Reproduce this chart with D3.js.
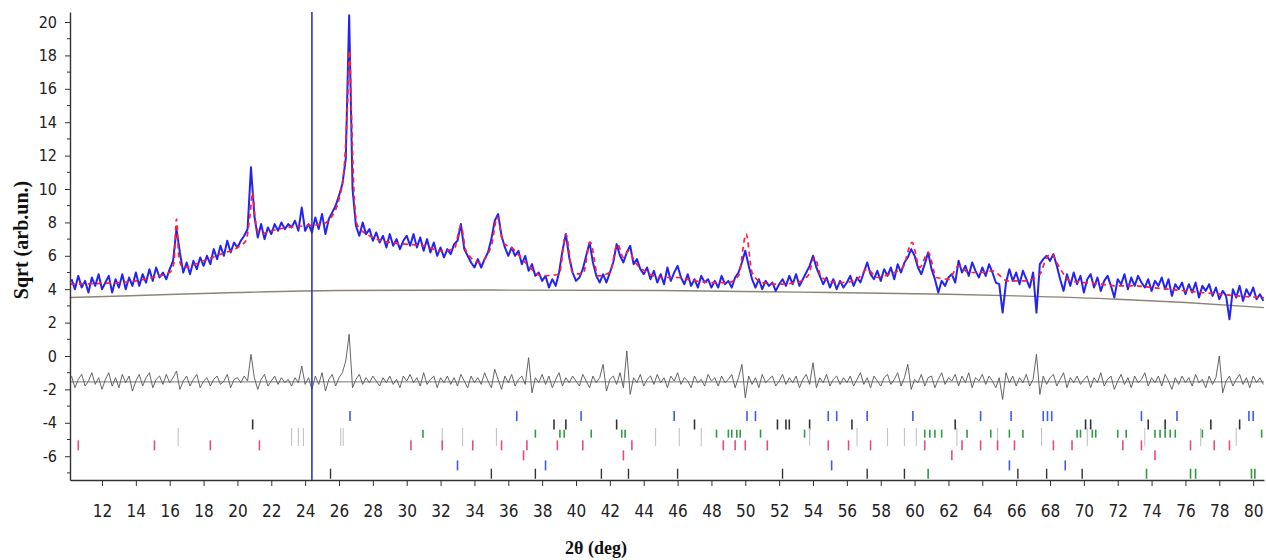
<!DOCTYPE html>
<html>
<head>
<meta charset="utf-8">
<script src="https://cdn.jsdelivr.net/npm/d3@7"></script>
<style>
  body { margin: 0; background: #fff; }
  .tick text {
    font-family: "Liberation Sans Narrow", "DejaVu Sans Condensed", "DejaVu Sans", sans-serif;
    font-stretch: condensed;
    fill: #222;
  }
  .axis-title {
    font-family: "Liberation Serif", "DejaVu Serif", serif;
    font-weight: bold;
    fill: #111;
  }
</style>
</head>
<body>
<svg id="chart"></svg>
<script>
// observed profile, one value every 0.2 deg starting at 10.2
const obsStart = 10.2;
const obsStep = 0.2;
const observed = [
  4.6, 4.0, 4.8, 4.1, 4.5, 3.8, 4.7, 4.2, 4.9, 4.0,
  4.4, 4.8, 3.8, 4.6, 4.1, 4.9, 4.0, 4.7, 4.2, 5.0,
  4.2, 4.9, 4.4, 5.2, 4.5, 5.3, 4.7, 5.0, 4.6, 5.2,
  5.7, 7.6, 6.2, 5.0, 5.6, 4.9, 5.7, 5.2, 5.9, 5.4,
  6.0, 5.5, 6.4, 5.8, 6.6, 6.0, 6.9, 6.2, 6.8, 6.5,
  6.9, 7.2, 7.6, 11.3, 8.4, 7.1, 7.9, 7.0, 7.7, 7.3,
  7.9, 7.5, 8.0, 7.6, 7.9, 7.7, 8.1, 7.5, 8.9, 7.5,
  7.9, 7.4, 8.3, 7.6, 8.5, 7.3, 8.2, 8.6, 9.0, 9.6,
  10.3, 11.8, 20.4, 10.0, 7.8, 7.2, 8.0, 7.3, 7.6, 6.9,
  7.4, 6.8, 7.2, 6.5, 7.3, 6.6, 7.0, 6.4, 6.9, 7.2,
  6.6, 7.3, 6.5, 7.1, 6.3, 7.0, 6.2, 6.8, 6.0, 6.5,
  5.9, 6.4, 6.1, 6.7, 6.9, 7.9, 6.4, 6.0, 5.6, 5.3,
  5.8, 5.3, 5.8, 6.2, 7.0, 8.1, 8.5, 7.2, 6.5, 6.0,
  6.5, 6.0, 6.3, 5.5, 6.0, 5.1, 5.5, 4.8, 5.0, 4.5,
  4.8, 4.1, 4.6, 4.2, 5.0, 6.3, 7.3, 5.9, 5.0, 4.5,
  4.7, 5.2, 6.0, 6.8, 5.6, 4.8, 4.4, 4.9, 4.4, 5.0,
  5.6, 6.7, 6.0, 5.6, 6.2, 6.6, 5.5, 5.8, 5.2, 4.9,
  5.3, 4.6, 5.1, 4.4, 4.9, 4.3, 5.3, 4.5, 5.0, 5.4,
  4.7, 4.3, 4.9, 4.2, 4.6, 4.1, 4.8, 4.4, 4.6, 4.1,
  4.5, 4.1, 4.8, 4.3, 4.5, 4.1, 4.7, 5.0, 5.6, 6.3,
  5.4, 4.6, 4.1, 4.6, 4.0, 4.5, 4.2, 4.4, 3.9, 4.3,
  4.6, 4.2, 4.8, 4.3, 4.9, 4.2, 4.6, 5.0, 5.4, 6.0,
  5.3, 4.8, 4.3, 4.7, 4.1, 4.6, 4.0, 4.5, 4.1, 4.4,
  4.8, 4.2, 4.7, 4.4, 5.0, 5.6, 4.9, 4.6, 5.1, 4.5,
  5.2, 4.8, 5.3, 4.6, 5.5, 5.0, 5.6, 5.9, 6.4, 6.0,
  5.3, 4.9, 5.5, 6.2, 5.2, 4.6, 3.8, 4.5, 4.2, 4.7,
  4.9, 4.4, 5.7, 5.0, 5.4, 4.8, 5.6, 5.1, 4.7, 5.3,
  4.8, 5.5, 5.0, 4.4, 4.3, 2.6, 4.4, 5.2, 4.5, 5.0,
  4.3, 5.1, 4.6, 4.1, 5.0, 2.6, 5.5, 5.8, 6.0, 5.7,
  6.1, 5.4, 4.6, 3.9, 4.9, 4.2, 5.0, 4.3, 4.8, 3.8,
  4.6, 4.9, 4.1, 4.7, 3.9, 4.5, 4.8, 4.2, 3.5, 4.6,
  4.3, 4.9, 4.0, 4.7, 4.2, 4.8, 4.4, 4.1, 4.6, 3.9,
  4.5, 4.2, 4.7, 4.0, 4.6, 3.6, 4.3, 4.0, 4.4, 3.7,
  4.3, 3.8, 4.4, 3.5, 4.2, 3.9, 4.3, 3.6, 4.1, 3.4,
  3.9, 3.6, 2.2, 4.0, 3.5, 4.2, 3.3, 4.0, 3.6, 4.1,
  3.4, 3.7, 3.3
];

// calculated profile as [2theta, value] points
const calculated = [
  [10.1, 4.3], [12, 4.35], [14, 4.5], [15, 4.7], [16.0, 5.0], [16.25, 5.6], [16.4, 8.2],
  [16.55, 5.8], [16.8, 5.3], [18, 5.7], [19, 6.1], [20, 6.5], [20.5, 6.9], [20.75, 8.5],
  [20.9, 9.8], [21.05, 8.2], [21.3, 7.3], [22, 7.5], [23, 7.7], [24, 7.8], [25, 7.9],
  [25.6, 8.4], [26.0, 9.4], [26.3, 11.2], [26.5, 15.0], [26.62, 18.3], [26.75, 14.0],
  [26.9, 9.5], [27.1, 7.8], [28, 7.1], [29, 6.8], [30, 6.7], [31, 6.6], [32, 6.3],
  [32.8, 6.4], [33.2, 7.8], [33.5, 6.3], [34.3, 5.6], [35.0, 6.6], [35.35, 8.3], [35.7, 6.8],
  [36.3, 6.4], [37, 5.6], [38, 4.8], [39.0, 4.9], [39.4, 7.3], [39.8, 5.0], [40.4, 4.9],
  [40.85, 6.8], [41.3, 4.8], [42.0, 5.0], [42.45, 6.7], [42.8, 5.9], [43.1, 6.3], [43.5, 5.6],
  [44.2, 5.0], [45, 4.7], [46, 4.7], [47, 4.5], [48, 4.4], [49, 4.4], [49.6, 4.8],
  [50.05, 7.3], [50.4, 5.0], [51, 4.4], [52, 4.3], [53, 4.4], [53.7, 4.8], [54.1, 5.9],
  [54.5, 4.7], [55.5, 4.4], [56.5, 4.5], [57.2, 5.2], [57.8, 4.7], [58.5, 4.9], [59.3, 5.3],
  [59.85, 6.8], [60.3, 5.3], [60.8, 6.2], [61.3, 4.7], [62, 4.6], [62.6, 5.4], [63.2, 5.0],
  [64, 5.0], [64.6, 5.1], [65.5, 4.5], [66.5, 4.5], [67.4, 4.9], [67.8, 5.9], [68.1, 6.1],
  [68.5, 5.4], [69.2, 4.5], [70, 4.4], [71, 4.3], [72, 4.2], [73, 4.2], [74, 4.1],
  [75, 4.0], [76, 3.9], [77, 3.8], [78, 3.7], [79, 3.6], [80.64, 3.5]
];

const background = [
  [10.1, 3.5], [15, 3.65], [20, 3.8], [26, 3.92], [35, 3.95], [45, 3.92],
  [55, 3.8], [62, 3.7], [66, 3.6], [72, 3.4], [76, 3.2], [80.64, 2.9]
];

// difference curve (obs - calc, shifted), same grid as observed
const diffStart = 10.2;
const diffStep = 0.2;
const diffBaseline = -1.55;
const difference = [
  -1.2, -1.9, -1.4, -1.1, -1.8, -1.5, -1.0, -1.7, -1.3, -2.0,
  -1.4, -1.0, -1.8, -1.3, -1.9, -1.1, -1.6, -1.2, -2.1, -1.5,
  -1.1, -1.8, -1.3, -1.0, -1.9, -1.4, -1.2, -1.7, -1.1, -1.6,
  -1.3, -0.9, -2.0, -1.5, -1.2, -1.8, -1.4, -1.1, -1.9, -1.5,
  -1.3, -1.8, -1.4, -1.2, -1.7, -1.5, -1.1, -1.9, -1.4, -1.3,
  -1.6, -1.2, -1.5, 0.1, -1.3, -2.0, -1.4, -1.1, -1.8, -1.5,
  -1.2, -1.7, -1.3, -1.6, -1.4, -1.8, -1.3, -1.6, -0.6, -1.7,
  -1.3, -2.0, -1.2, -1.7, -1.0, -2.1, -1.4, -1.1, -1.8, -1.3,
  -1.0, -0.3, 1.3, -1.9, -1.4, -1.1, -1.7, -1.3, -1.6, -1.2,
  -1.5, -1.8, -1.3, -1.6, -1.2, -1.7, -1.4, -1.9, -1.2, -1.5,
  -1.1, -1.6, -1.3, -1.8, -1.0, -1.7, -1.4, -1.2, -1.9, -1.3,
  -1.6, -1.2, -1.7, -1.3, -1.8, -1.1, -1.5, -1.9, -1.2, -1.6,
  -1.3, -1.7, -1.0, -1.5, -1.9, -0.8, -1.4, -2.0, -1.2, -1.6,
  -1.1, -1.8, -1.4, -1.2, -1.7, -0.1, -2.2, -1.3, -1.6, -1.1,
  -1.7, -1.2, -1.9, -1.4, -1.0, -1.8, -1.3, -1.6, -1.2, -1.5,
  -1.8, -1.1, -1.5, -1.9, -1.2, -1.6, -1.3, -0.5, -2.1, -1.4,
  -1.2, -1.7, -1.0, -1.9, 0.3, -2.3, -1.3, -1.6, -1.1, -1.8,
  -1.4, -1.2, -1.7, -1.1, -1.6, -1.3, -1.9, -1.2, -1.5, -1.0,
  -1.7, -1.3, -1.5, -1.9, -1.2, -1.6, -1.4, -1.8, -1.1, -1.5,
  -1.3, -1.8, -1.2, -1.6, -1.4, -1.1, -1.9, -1.3, -0.5, -2.5,
  -1.2, -1.7, -1.3, -1.9, -1.1, -1.6, -1.4, -1.2, -1.8, -1.5,
  -1.1, -1.7, -1.3, -1.6, -1.2, -1.9, -1.4, -1.1, -1.7, -0.4,
  -1.9, -1.3, -1.6, -1.1, -1.8, -1.4, -1.2, -1.7, -1.3, -1.6,
  -1.2, -1.8, -1.4, -1.0, -1.7, -1.3, -1.9, -1.2, -1.5, -1.8,
  -1.3, -1.1, -1.7, -1.4, -1.0, -1.8, -1.3, -0.5, -2.0, -1.4,
  -1.6, -1.1, -1.8, -1.3, -1.2, -1.9, -1.4, -1.0, -1.7, -1.3,
  -1.5, -1.1, -1.8, -1.2, -1.6, -1.0, -1.9, -1.3, -1.5, -1.1,
  -1.7, -1.2, -1.5, -1.9, -1.3, -2.6, -1.0, -1.6, -1.2, -1.8,
  -1.3, -1.6, -1.1, -1.8, -1.4, 0.1, -2.3, -1.2, -1.7, -1.3,
  -1.1, -1.8, -1.4, -1.0, -1.9, -1.3, -1.6, -1.2, -1.7, -1.4,
  -1.2, -1.9, -1.3, -1.6, -1.0, -1.8, -1.4, -1.2, -2.0, -1.5,
  -1.1, -1.7, -1.3, -1.9, -1.2, -1.6, -1.4, -1.0, -1.8, -1.3,
  -1.6, -1.2, -1.8, -1.1, -1.5, -2.0, -1.3, -1.7, -1.2, -1.6,
  -1.3, -1.8, -1.1, -1.6, -1.4, -1.9, -1.2, -1.7, -1.3, 0.0,
  -2.2, -1.5, -1.2, -1.8, -1.4, -1.1, -1.7, -1.3, -1.9, -1.2,
  -1.6, -1.3, -1.7
];

// vertical marker at 24.4 deg
const markerLine = 24.4;

// Bragg reflection positions, one array per row of ticks
const braggRow1 = [26.65, 36.5, 40.3, 45.8, 50.1, 50.6, 54.9, 55.4, 57.2, 59.9, 63.9, 65.7, 67.6, 67.85, 68.1, 73.4, 75.5, 79.75, 80.0];
const braggRow2 = [20.9, 38.7, 39.4, 42.4, 47.0, 51.9, 52.4, 52.6, 53.8, 56.3, 62.4, 70.1, 70.4, 73.8, 74.8, 77.5, 79.2];
const braggRow3 = [30.96, 37.6, 39.05, 39.3, 40.9, 42.7, 42.9, 48.3, 49.0, 49.2, 49.5, 49.7, 50.9, 53.5, 60.6, 60.9, 61.2, 61.6, 63.1, 64.5, 65.6, 66.4, 69.6, 69.8, 70.5, 70.7, 72.0, 72.5, 74.2, 74.5, 74.8, 75.1, 75.4, 77.0, 80.5];
const braggRow4 = [16.5, 23.2, 23.6, 23.9, 26.1, 26.25, 32.1, 33.3, 35.3, 44.7, 46.1, 47.4, 53.8, 56.6, 58.4, 59.4, 60.1, 62.5, 64.9, 67.5, 70.2, 73.6, 76.9, 79.0];
const braggRow5 = [10.6, 15.1, 18.4, 21.3, 30.25, 32.1, 33.9, 35.6, 37.1, 38.9, 40.4, 43.3, 48.7, 49.4, 50.0, 51.3, 54.9, 56.1, 57.4, 60.6, 62.8, 63.9, 64.9, 65.9, 68.2, 69.3, 72.3, 73.4, 76.3, 77.7, 78.6];
const braggRow6 = [36.9, 42.8, 62.2, 74.2];
const braggRow7 = [33.0, 38.2, 55.1, 65.6, 68.9];
const braggRow8 = [25.5, 35.0, 37.6, 41.5, 43.1, 46.0, 52.2, 57.2, 59.4, 66.1, 67.8, 69.9];
const braggRow9 = [60.8, 73.7, 76.3, 76.6, 79.9, 80.1];
// level (in plot units) of each tick row
const braggLevels = [-3.6, -4.1, -4.65, -4.85, -5.35, -5.95, -6.55, -7.05, -7.05];

const xTickValues = [12, 14, 16, 18, 20, 22, 24, 26, 28, 30, 32, 34, 36, 38, 40, 42, 44, 46,
  48, 50, 52, 54, 56, 58, 60, 62, 64, 66, 68, 70, 72, 74, 76, 78, 80];
const yTickValues = [-6, -4, -2, 0, 2, 4, 6, 8, 10, 12, 14, 16, 18, 20];
const yMinorTicks = [-7, -5, -3, -1, 1, 3, 5, 7, 9, 11, 13, 15, 17, 19];

const width = 1266;
const height = 560;
const margin = { top: 12, right: 2, bottom: 80, left: 70 };

const svg = d3.select("#chart").attr("width", width).attr("height", height);

const x = d3.scaleLinear().domain([10.11, 80.64]).range([margin.left, width - margin.right]);
const y = d3.scaleLinear().domain([-7.425, 20.6]).range([height - margin.bottom, margin.top]);

// background
svg.append("path")
  .datum(background)
  .attr("fill", "none")
  .attr("stroke", "#8c8576")
  .attr("stroke-width", 1.4)
  .attr("d", d3.line().curve(d3.curveMonotoneX).x(d => x(d[0])).y(d => y(d[1])));

// difference baseline + difference
svg.append("line")
  .attr("x1", x(10.11)).attr("x2", x(80.64))
  .attr("y1", y(diffBaseline)).attr("y2", y(diffBaseline))
  .attr("stroke", "#777").attr("stroke-width", 1);

svg.append("path")
  .datum(difference)
  .attr("fill", "none")
  .attr("stroke", "#555")
  .attr("stroke-width", 0.9)
  .attr("d", d3.line().x((d, i) => x(diffStart + i * diffStep)).y(d => y(d)));

// observed (blue) and calculated (red dashed over it)
svg.append("path")
  .datum(observed)
  .attr("fill", "none")
  .attr("stroke", "#2424f0")
  .attr("stroke-width", 2)
  .attr("stroke-linejoin", "round")
  .attr("d", d3.line().x((d, i) => x(obsStart + i * obsStep)).y(d => y(d)));

svg.append("path")
  .datum(calculated)
  .attr("fill", "none")
  .attr("stroke", "#ff1e3c")
  .attr("stroke-width", 1.7)
  .attr("stroke-dasharray", "5,4")
  .attr("d", d3.line().curve(d3.curveMonotoneX).x(d => x(d[0])).y(d => y(d[1])));

// vertical marker
svg.append("line")
  .attr("x1", x(markerLine)).attr("x2", x(markerLine))
  .attr("y1", y.range()[1]).attr("y2", y.range()[0])
  .attr("stroke", "#2b2ba8")
  .attr("stroke-width", 1.5);

// Bragg tick rows
const rowColors = ["#3b5ee6", "#333", "#2f9a40", "#c4c4c4", "#ea4a7c", "#ea4a7c", "#3b5ee6", "#333", "#2f9a40"];
const rowHalf = [5, 5, 4, 9, 5, 5, 5, 5, 5];
const rowWidth = [1.6, 1.6, 1.6, 1.1, 1.6, 1.6, 1.6, 1.4, 1.6];
const braggRows = [braggRow1, braggRow2, braggRow3, braggRow4, braggRow5, braggRow6, braggRow7, braggRow8, braggRow9];

braggRows.forEach((row, k) => {
  svg.append("g")
    .selectAll("line")
    .data(row)
    .join("line")
    .attr("x1", d => x(d)).attr("x2", d => x(d))
    .attr("y1", y(braggLevels[k]) - rowHalf[k])
    .attr("y2", y(braggLevels[k]) + rowHalf[k])
    .attr("stroke", rowColors[k])
    .attr("stroke-width", rowWidth[k]);
});

// axes
const xAxis = svg.append("g")
  .attr("transform", `translate(0,${height - margin.bottom})`)
  .call(d3.axisBottom(x).tickValues(xTickValues).tickSize(6).tickPadding(19).tickSizeOuter(0));
xAxis.select(".domain").attr("stroke", "#333").attr("stroke-width", 1.4);
xAxis.selectAll(".tick line").attr("stroke", "#333");
xAxis.selectAll(".tick text").attr("font-size", 17);

const yAxis = svg.append("g")
  .attr("transform", `translate(${margin.left},0)`)
  .call(d3.axisLeft(y).tickValues(yTickValues).tickFormat(d => String(d)).tickSize(5).tickPadding(8).tickSizeOuter(0));
yAxis.select(".domain").attr("stroke", "#333").attr("stroke-width", 1.4);
yAxis.selectAll(".tick line").attr("stroke", "#333");
yAxis.selectAll(".tick text").attr("font-size", 16);

svg.append("g")
  .selectAll("line")
  .data(yMinorTicks)
  .join("line")
  .attr("x1", margin.left - 3).attr("x2", margin.left)
  .attr("y1", d => y(d)).attr("y2", d => y(d))
  .attr("stroke", "#333");

// axis titles
svg.append("text")
  .attr("class", "axis-title")
  .attr("transform", "rotate(-90)")
  .attr("x", -240)
  .attr("y", 28)
  .attr("text-anchor", "middle")
  .attr("font-size", 20)
  .text("Sqrt (arb.un.)");

svg.append("text")
  .attr("class", "axis-title")
  .attr("x", 596)
  .attr("y", 554)
  .attr("text-anchor", "middle")
  .attr("font-size", 18)
  .text("2θ (deg)");
</script>
</body>
</html>
